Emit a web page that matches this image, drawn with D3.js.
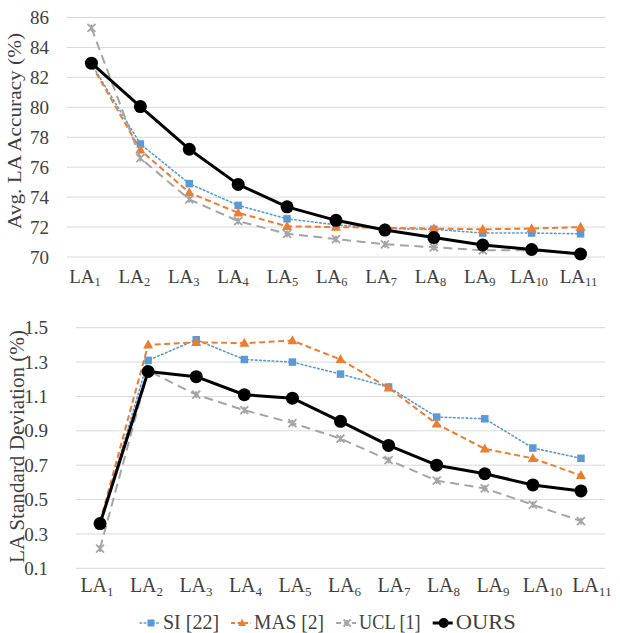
<!DOCTYPE html>
<html><head><meta charset="utf-8">
<script src="https://cdn.jsdelivr.net/npm/d3@7"></script>
<style>
html,body{margin:0;padding:0;background:#fff;}
svg text, svg tspan{font-family:"Liberation Serif","Times New Roman",serif !important;}
</style></head>
<body>
<svg id="fig" width="620" height="633" font-family="Liberation Serif"></svg>
<script>
// ---------- data ----------
const categories = ["LA1","LA2","LA3","LA4","LA5","LA6","LA7","LA8","LA9","LA10","LA11"];
const labelMain = "LA";
const labelSub = ["1","2","3","4","5","6","7","8","9","10","11"];

const accSI   = [82.9, 77.55, 74.9, 73.45, 72.55, 72.15, 71.9, 71.85, 71.6, 71.6, 71.55];
const accMAS  = [82.85, 77.15, 74.3, 72.95, 72.05, 72.0, 71.95, 71.9, 71.85, 71.9, 72.0];
const accUCL  = [85.3, 76.6, 73.85, 72.4, 71.55, 71.2, 70.85, 70.65, 70.45, 70.45, 70.25];
const accOURS = [82.95, 80.05, 77.2, 74.85, 73.35, 72.45, 71.8, 71.3, 70.8, 70.5, 70.2];

const stdSI   = [0.36, 1.31, 1.43, 1.315, 1.30, 1.23, 1.155, 0.98, 0.97, 0.80, 0.74];
const stdMAS  = [0.37, 1.40, 1.415, 1.41, 1.425, 1.315, 1.15, 0.94, 0.795, 0.74, 0.64];
const stdUCL  = [0.215, 1.25, 1.11, 1.02, 0.945, 0.855, 0.73, 0.61, 0.565, 0.47, 0.375];
const stdOURS = [0.36, 1.245, 1.215, 1.11, 1.09, 0.955, 0.815, 0.70, 0.65, 0.585, 0.55];

const accTicks = [70, 72, 74, 76, 78, 80, 82, 84, 86];
const stdTicks = [0.1, 0.3, 0.5, 0.7, 0.9, 1.1, 1.3, 1.5];

const seriesNames = ["SI [22]", "MAS [2]", "UCL [1]", "OURS"];
const seriesKeys = ["SI", "MAS", "UCL", "OURS"];

// ---------- styles ----------
const FONT = "Liberation Serif";
const TXT = "#404040";
const styles = {
  SI:   {color:"#5B9BD5", width:1.6, dash:"1.6 2.6", cap:"round", marker:"square", size:7.5},
  MAS:  {color:"#ED7D31", width:2,   dash:"6 3.5",   cap:"butt",  marker:"triangle", size:10},
  UCL:  {color:"#A5A5A5", width:2,   dash:"9 5.5",   cap:"butt",  marker:"star", size:8},
  OURS: {color:"#000000", width:3,   dash:null,      cap:"butt",  marker:"circle", size:6.5}
};

const svg = d3.select("#fig");

// lock text width to its serif measurement
function lock(sel, len) {
  sel.each(function() {
    const L = len || this.getComputedTextLength();
    d3.select(this).attr("textLength", L.toFixed(1)).attr("lengthAdjust", "spacingAndGlyphs");
  });
}

function drawMarker(g, type, x, y, s, color) {
  if (type === "square") {
    g.append("rect").attr("x", x - s/2).attr("y", y - s/2).attr("width", s).attr("height", s).attr("fill", color);
  } else if (type === "triangle") {
    const h = s * 0.9;
    g.append("path").attr("d", `M${x},${y - h*0.6}L${x + s/2},${y + h*0.4}L${x - s/2},${y + h*0.4}Z`).attr("fill", color);
  } else if (type === "star") {
    const r = s/2;
    g.append("path").attr("d", `M${x-r},${y-r}L${x+r},${y+r}M${x-r},${y+r}L${x+r},${y-r}M${x},${y-r*0.85}L${x},${y+r*0.85}`)
      .attr("stroke", color).attr("stroke-width", 1.8).attr("fill", "none");
  } else if (type === "circle") {
    g.append("circle").attr("cx", x).attr("cy", y).attr("r", s).attr("fill", color);
  }
}

function panel(opts) {
  const {left, right, top, bottom, domain, ticks, data, labelRange, labelBase, tickX, tickFont, labelFont, title, titleX, titleY, titleFont, titleLen} = opts;
  const x = d3.scalePoint().domain(categories).range([left, right]).padding(0.5);
  const xl = d3.scalePoint().domain(categories).range(labelRange);
  const y = d3.scaleLinear().domain(domain).range([bottom, top]);
  const g = svg.append("g");

  // grid
  g.append("g").selectAll("line").data(ticks).join("line")
    .attr("x1", left).attr("x2", right)
    .attr("y1", d => y(d)).attr("y2", d => y(d))
    .attr("stroke", "#d9d9d9").attr("stroke-width", 1);

  // y tick labels via axis
  const yAxis = d3.axisLeft(y).tickValues(ticks).tickSize(0).tickPadding(0)
    .tickFormat(d => domain[1] > 10 ? d3.format("d")(d) : d3.format(".1f")(d));
  const ya = g.append("g").attr("transform", `translate(${tickX},0)`).call(yAxis);
  ya.attr("font-family", FONT);
  ya.select(".domain").remove();
  const tickTexts = ya.selectAll("text").attr("font-size", tickFont).attr("fill", TXT)
    .attr("font-family", FONT).style("font-family", FONT);
  lock(tickTexts, domain[1] > 10 ? tickFont * 1.0 : tickFont * 1.25);

  // x labels
  const xt = g.append("g").attr("font-family", FONT);
  categories.forEach((c, i) => {
    const t = xt.append("text").attr("x", xl(c)).attr("y", labelBase)
      .attr("text-anchor", "middle").attr("font-size", labelFont).attr("fill", TXT).style("font-family", FONT);
    t.append("tspan").attr("textLength", (labelFont * 1.333).toFixed(1)).attr("lengthAdjust", "spacingAndGlyphs").text(labelMain);
    t.append("tspan").attr("font-size", labelFont * 0.65).attr("dy", labelFont*0.18)
      .attr("textLength", (labelFont * 0.65 * 0.5 * labelSub[i].length).toFixed(1)).attr("lengthAdjust", "spacingAndGlyphs")
      .text(labelSub[i]);
  });

  // lines
  seriesKeys.forEach((k, si) => {
    const st = styles[k];
    const vals = data[si];
    const line = d3.line().x((d, i) => x(categories[i])).y(d => y(d));
    const sg = g.append("g");
    const p = sg.append("path").datum(vals).attr("d", line).attr("fill", "none")
      .attr("stroke", st.color).attr("stroke-width", st.width).attr("stroke-linecap", st.cap)
      .attr("stroke-linejoin", "round");
    if (st.dash) p.attr("stroke-dasharray", st.dash);
    vals.forEach((v, i) => drawMarker(sg, st.marker, x(categories[i]), y(v), st.size, st.color));
  });

  // title
  svg.append("text").attr("transform", `translate(${titleX},${titleY}) rotate(-90)`)
    .attr("text-anchor", "middle").attr("dominant-baseline", "central")
    .attr("font-size", titleFont).attr("fill", TXT).style("font-family", FONT).text(title)
    .attr("textLength", titleLen).attr("lengthAdjust", "spacingAndGlyphs");
}

panel({
  left: 67, right: 605, top: 17.5, bottom: 257,
  domain: [70, 86], ticks: accTicks,
  data: [accSI, accMAS, accUCL, accOURS],
  labelRange: [85, 578.5], labelBase: 283,
  tickX: 49, tickFont: 19, labelFont: 19,
  title: "Avg. LA  Accuracy (%)", titleX: 15, titleY: 131, titleFont: 18, titleLen: 196
});

panel({
  left: 76, right: 605, top: 327.7, bottom: 568.3,
  domain: [0.1, 1.5], ticks: stdTicks,
  data: [stdSI, stdMAS, stdUCL, stdOURS],
  labelRange: [97, 592], labelBase: 592,
  tickX: 48, tickFont: 19, labelFont: 20,
  title: "LA Standard Deviation (%)", titleX: 17, titleY: 446.5, titleFont: 21, titleLen: 233
});

// legend (serif widths in em: SI [22] 2.805, MAS [2] 3.5, UCL [1] 3.08, OURS 3.0)
const legendEm = [2.805, 3.5, 3.08, 3.0];
const legY = 623;
const lg = svg.append("g");
let cx = 140;
seriesKeys.forEach((k, i) => {
  const st = styles[k];
  const l = lg.append("line").attr("x1", cx).attr("x2", cx + 20).attr("y1", legY).attr("y2", legY)
    .attr("stroke", st.color).attr("stroke-width", st.width).attr("stroke-linecap", st.cap);
  if (st.dash) l.attr("stroke-dasharray", k === "UCL" ? "5 3" : (k === "MAS" ? "4 2.5" : st.dash));
  const ms = k === "OURS" ? 5 : (k === "SI" ? 7 : (k === "MAS" ? 8 : 7));
  drawMarker(lg, st.marker, cx + 11, legY, ms, st.color);
  const w = legendEm[i] * 20;
  lg.append("text").attr("x", cx + 23).attr("y", legY + 6).attr("font-size", 20)
    .attr("fill", TXT).style("font-family", FONT).text(seriesNames[i])
    .attr("textLength", w.toFixed(1)).attr("lengthAdjust", "spacingAndGlyphs");
  cx = cx + 23 + w + 12;
});
</script>
</body></html>
